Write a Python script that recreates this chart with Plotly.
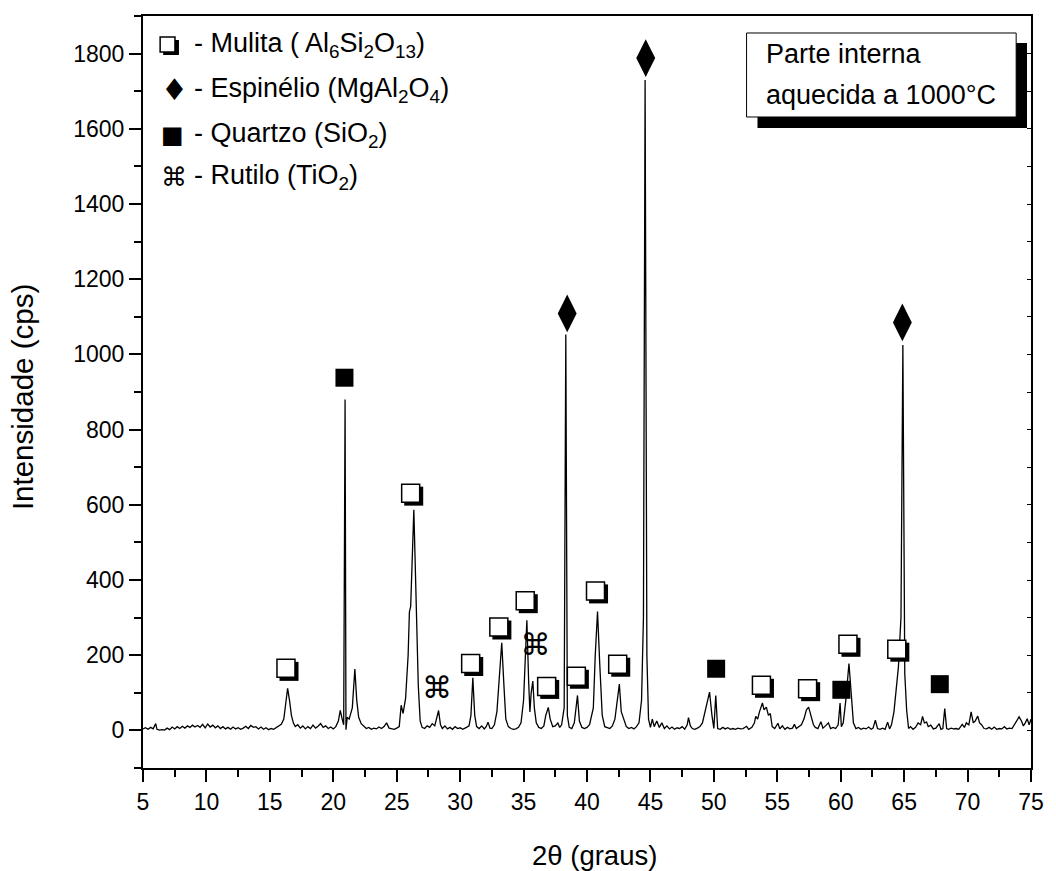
import plotly.graph_objects as go

# ---- diffractogram (2theta, intensity) ----
two_theta = [
    5.0, 5.2, 5.4, 5.6, 5.8, 6.0, 6.1, 6.3, 6.5, 6.7, 6.9, 7.1, 7.3, 7.5, 7.7, 7.9,
    8.1, 8.3, 8.5, 8.7, 8.9, 9.1, 9.3, 9.5, 9.7, 9.9, 10.1, 10.3, 10.5, 10.7, 10.9,
    11.1, 11.3, 11.5, 11.7, 11.9, 12.1, 12.3, 12.5, 12.7, 12.9, 13.1, 13.3, 13.5,
    13.7, 13.9, 14.1, 14.3, 14.5, 14.7, 14.9, 15.1, 15.3, 15.5, 15.7, 15.9, 16.1,
    16.25, 16.4, 16.55, 16.7, 16.85, 17.0, 17.2, 17.4, 17.6, 17.8, 18.0, 18.2, 18.4,
    18.6, 18.8, 19.0, 19.2, 19.4, 19.6, 19.8, 20.0, 20.2, 20.4, 20.55, 20.7, 20.82,
    20.93, 21.0, 21.1, 21.25, 21.5, 21.7, 21.85, 22.0, 22.2, 22.4, 22.6, 22.8, 23.0,
    23.2, 23.4, 23.6, 23.8, 24.0, 24.2, 24.4, 24.6, 24.8, 25.0, 25.2, 25.35, 25.5,
    25.7, 25.9, 26.0, 26.1, 26.35, 26.55, 26.7, 26.85, 27.0, 27.2, 27.4, 27.6, 27.8,
    28.0, 28.3, 28.45, 28.6, 28.8, 29.0, 29.2, 29.4, 29.6, 29.8, 30.0, 30.2, 30.5,
    30.7, 30.85, 31.0, 31.15, 31.3, 31.5, 31.7, 31.9, 32.05, 32.2, 32.35, 32.5, 32.7,
    32.9, 33.1, 33.28, 33.45, 33.6, 33.8, 34.0, 34.2, 34.4, 34.6, 34.8, 35.0, 35.1,
    35.26, 35.4, 35.5, 35.6, 35.73, 35.85, 36.0, 36.2, 36.4, 36.6, 36.75, 36.95,
    37.1, 37.3, 37.5, 37.7, 37.85, 38.0, 38.2, 38.33, 38.45, 38.6, 38.8, 39.0, 39.25,
    39.4, 39.6, 39.8, 40.0, 40.2, 40.5, 40.65, 40.83, 41.0, 41.2, 41.4, 41.6, 41.8,
    42.0, 42.2, 42.35, 42.55, 42.7, 42.8, 42.95, 43.1, 43.3, 43.5, 43.7, 43.9, 44.1,
    44.3, 44.45, 44.58, 44.72, 44.85, 45.0, 45.15, 45.3, 45.5, 45.7, 45.9, 46.1,
    46.3, 46.5, 46.7, 46.9, 47.1, 47.3, 47.5, 47.7, 47.9, 48.0, 48.15, 48.3, 48.5,
    48.7, 48.9, 49.1, 49.4, 49.66, 49.85, 50.0, 50.15, 50.3, 50.5, 50.7, 50.9, 51.1,
    51.3, 51.5, 51.7, 51.9, 52.1, 52.3, 52.58, 52.75, 53.0, 53.2, 53.3, 53.45, 53.6,
    53.83, 53.95, 54.14, 54.3, 54.45, 54.6, 54.8, 55.05, 55.2, 55.4, 55.6, 55.8,
    56.0, 56.2, 56.35, 56.5, 56.7, 56.9, 57.1, 57.3, 57.47, 57.65, 57.85, 58.0, 58.2,
    58.44, 58.6, 58.8, 59.03, 59.2, 59.4, 59.6, 59.8, 59.95, 60.05, 60.2, 60.4,
    60.65, 60.85, 61.0, 61.2, 61.4, 61.6, 61.8, 62.0, 62.2, 62.4, 62.55, 62.73, 62.9,
    63.1, 63.3, 63.5, 63.7, 63.85, 64.0, 64.2, 64.4, 64.55, 64.75, 64.9, 65.05, 65.2,
    65.35, 65.5, 65.7, 65.9, 66.1, 66.3, 66.45, 66.6, 66.77, 66.9, 67.1, 67.3, 67.5,
    67.76, 67.9, 68.05, 68.2, 68.35, 68.5, 68.7, 68.9, 69.1, 69.3, 69.58, 69.75,
    69.9, 70.1, 70.28, 70.45, 70.6, 70.8, 70.95, 71.1, 71.3, 71.5, 71.7, 71.9, 72.1,
    72.3, 72.5, 72.7, 72.9, 73.1, 73.3, 73.5, 73.7, 73.9, 74.06, 74.25, 74.4, 74.55,
    74.7, 74.85, 75.0,
]
intensity = [
    4, 7, 3, 8, 4, 18, 3, 1, 2, 1, 6, 2, 9, 4, 10, 5,
    11, 6, 12, 8, 14, 9, 13, 8, 16, 7, 17, 9, 14, 7, 12,
    5, 10, 4, 8, 3, 9, 4, 7, 3, 6, 11, 5, 13,
    8, 10, 4, 9, 3, 7, 2, 5, 3, 8, 12, 16, 30,
    65, 112, 80, 40, 20, 10, 15, 6, 12, 4, 10, 5, 14,
    6, 11, 18, 8, 12, 5, 9, 4, 10, 25, 53, 30, 15,
    880, 2, 35, 30, 60, 163, 80, 35, 18, 12, 5, 8, 3,
    6, 4, 9, 5, 10, 20, 6, 5, 3, 6, 10, 67, 45,
    85, 200, 315, 330, 587, 350, 120, 25, 8, 5, 12, 8, 18,
    12, 53, 15, 5, 12, 4, 8, 3, 10, 5, 7, 3, 8,
    12, 40, 140, 40, 10, 5, 12, 4, 10, 22, 6, 5, 15,
    50, 150, 233, 120, 30, 10, 5, 3, 4, 8, 20, 80, 180,
    293, 130, 49, 100, 131, 60, 20, 8, 5, 12, 40, 61,
    30, 10, 12, 20, 8, 15, 60, 1053, 40, 8, 5, 20, 93,
    25, 8, 5, 8, 15, 60, 200, 316, 180, 40, 10, 8, 5,
    12, 30, 70, 123, 50, 40, 20, 10, 5, 8, 4, 10, 20,
    80, 300, 1730, 200, 30, 8, 30, 10, 25, 8, 20, 5,
    12, 4, 9, 3, 7, 5, 10, 3, 15, 34, 12, 5, 3,
    6, 10, 20, 60, 102, 40, 5, 93, 5, 3, 8, 4, 7,
    3, 5, 3, 6, 4, 5, 11, 3, 8, 20, 37, 30, 50,
    73, 55, 62, 40, 45, 10, 5, 19, 4, 12, 3, 8,
    4, 6, 16, 5, 10, 15, 30, 55, 62, 40, 15, 8, 5,
    23, 6, 12, 20, 5, 8, 5, 15, 73, 10, 20, 80,
    178, 80, 20, 5, 8, 3, 6, 4, 9, 3, 6, 27, 5,
    3, 6, 3, 22, 4, 15, 50, 120, 169, 300, 1025, 150, 53,
    5, 10, 3, 8, 20, 15, 37, 20, 22, 10, 14, 4, 6,
    18, 3, 5, 58, 5, 3, 6, 4, 5, 3, 16, 8,
    20, 15, 49, 20, 25, 38, 20, 15, 5, 4, 8, 3, 9,
    3, 5, 4, 10, 4, 6, 5, 15, 25, 36, 25, 12, 20,
    31, 15, 30,
]

# ---- phase identification marks (label positions) ----
mulita_x = [16.27, 26.1, 30.83, 33.05, 35.13, 36.82, 39.16, 40.67, 42.42, 53.75, 57.39, 60.57, 64.42]
mulita_y = [165, 631, 178, 275, 345, 117, 144, 371, 176, 120, 111, 229, 216]
espinelio_x = [38.44, 44.63, 64.86]
espinelio_y = [1109, 1788, 1085]
quartzo_x = [20.88, 50.18, 60.05, 67.81]
quartzo_y = [938, 164, 108, 123]
rutilo_x = [28.17, 35.94]
rutilo_y = [107, 220]

x_ticks = list(range(5, 80, 5))
y_ticks = list(range(0, 2000, 200))

legend_symbols = ["", "♦", "■", "⌘"]   # mullite symbol drawn as a shadowed box
legend_texts = [
    "- Mulita ( Al<sub>6</sub>Si<sub>2</sub>O<sub>13</sub>)",
    "- Espinélio (MgAl<sub>2</sub>O<sub>4</sub>)",
    "- Quartzo (SiO<sub>2</sub>)",
    "- Rutilo (TiO<sub>2</sub>)",
]
box_lines = ["Parte interna", "aquecida a 1000°C"]

FONT = "Liberation Sans"
SYMFONT = "DejaVu Sans"

# shadow offset of the mullite symbol, in axis units (about 3 px)
SHX, SHY = 0.24, -8

fig = go.Figure()
fig.add_trace(go.Scatter(x=two_theta, y=intensity, mode="lines",
                         line=dict(color="black", width=1.3), showlegend=False,
                         hoverinfo="skip"))
# mullite: shadowed open square
fig.add_trace(go.Scatter(x=[v + SHX for v in mulita_x], y=[v + SHY for v in mulita_y],
                         mode="markers", marker=dict(symbol="square", size=19, color="black"),
                         showlegend=False, hoverinfo="skip"))
fig.add_trace(go.Scatter(x=mulita_x, y=mulita_y, mode="markers",
                         marker=dict(symbol="square", size=18, color="white",
                                     line=dict(color="black", width=1.5)),
                         showlegend=False))
fig.add_trace(go.Scatter(x=espinelio_x, y=espinelio_y, mode="markers",
                         marker=dict(symbol="diamond-tall", size=27, color="black"),
                         showlegend=False))
fig.add_trace(go.Scatter(x=quartzo_x, y=quartzo_y, mode="markers",
                         marker=dict(symbol="square", size=18, color="black"),
                         showlegend=False))
fig.add_trace(go.Scatter(x=rutilo_x, y=rutilo_y, mode="text", text=["⌘"] * len(rutilo_x),
                         textfont=dict(family=SYMFONT, size=30, color="black"),
                         showlegend=False))
# empty trace to hold the right-hand mirror axis
fig.add_trace(go.Scatter(x=[], y=[], xaxis="x", yaxis="y2", showlegend=False))

# text box with shadow
fig.add_shape(type="rect", xref="paper", yref="paper", x0=0.6920, x1=0.9955, y0=0.8511, y1=0.9641,
              fillcolor="black", line=dict(width=0), layer="above")
fig.add_shape(type="rect", xref="paper", yref="paper", x0=0.6797, x1=0.9833, y0=0.8657, y1=0.9774,
              fillcolor="white", line=dict(color="black", width=1), layer="above")
# legend mullite symbol (shadowed box)
fig.add_shape(type="rect", xref="paper", yref="paper", x0=0.0227, x1=0.0405, y0=0.9481, y1=0.9681,
              fillcolor="black", line=dict(width=0), layer="above")
fig.add_shape(type="rect", xref="paper", yref="paper", x0=0.0193, x1=0.0360, y0=0.9521, y1=0.9721,
              fillcolor="white", line=dict(color="black", width=1.5), layer="above")

annotations = []
for txt, yy in zip(box_lines, [0.9495, 0.8943]):
    annotations.append(dict(text=txt, xref="paper", yref="paper", x=0.6989, y=yy,
                            xanchor="left", yanchor="middle", showarrow=False,
                            font=dict(family=FONT, size=27, color="black")))
leg_y = [0.9614, 0.9016, 0.8418, 0.7859]
leg_sym_size = [25, 30, 24, 26]
for sym, txt, yy, ss in zip(legend_symbols, legend_texts, leg_y, leg_sym_size):
    if sym:
        annotations.append(dict(text=sym, xref="paper", yref="paper", x=0.0185, y=yy,
                                xanchor="left", yanchor="middle", showarrow=False,
                                font=dict(family=SYMFONT, size=ss, color="black")))
    annotations.append(dict(text=txt, xref="paper", yref="paper", x=0.055, y=yy,
                            xanchor="left", yanchor="middle", showarrow=False,
                            font=dict(family=FONT, size=27, color="black")))
annotations.append(dict(text="Intensidade (cps)", xref="paper", yref="paper", x=-0.135, y=0.4934,
                        textangle=-90, xanchor="center", yanchor="middle", showarrow=False,
                        font=dict(family=FONT, size=29.5, color="black")))
annotations.append(dict(text="2θ (graus)", xref="paper", yref="paper", x=0.509, y=-0.117,
                        xanchor="center", yanchor="middle", showarrow=False,
                        font=dict(family=FONT, size=27.5, color="black")))

fig.update_layout(
    width=1056, height=871,
    margin=dict(l=143, r=17, t=16, b=103),
    paper_bgcolor="white", plot_bgcolor="white",
    font=dict(family=FONT, size=23, color="black"),
    annotations=annotations,
    xaxis=dict(range=[5, 75], tickvals=x_ticks, ticks="outside", ticklen=12, tickwidth=2,
               tickcolor="black", showline=True, linewidth=2, linecolor="black", mirror=True,
               showgrid=False, zeroline=False,
               minor=dict(dtick=2.5, tick0=5, ticks="outside", ticklen=7, tickwidth=2,
                          tickcolor="black", showgrid=False),
               tickfont=dict(family=FONT, size=23, color="black")),
    yaxis=dict(range=[-100, 1900], tickvals=y_ticks, ticks="outside", ticklen=12, tickwidth=2,
               tickcolor="black", showline=True, linewidth=2, linecolor="black", mirror=True,
               showgrid=False, zeroline=False,
               minor=dict(dtick=100, tick0=0, ticks="outside", ticklen=7, tickwidth=2,
                          tickcolor="black", showgrid=False),
               tickfont=dict(family=FONT, size=23, color="black")),
    yaxis2=dict(range=[-100, 1900], overlaying="y", side="right", dtick=100, tick0=0,
                ticks="inside", ticklen=4, tickwidth=1, tickcolor="black",
                showticklabels=False, showgrid=False, zeroline=False, showline=False),
)

fig.write_html("out.html")
